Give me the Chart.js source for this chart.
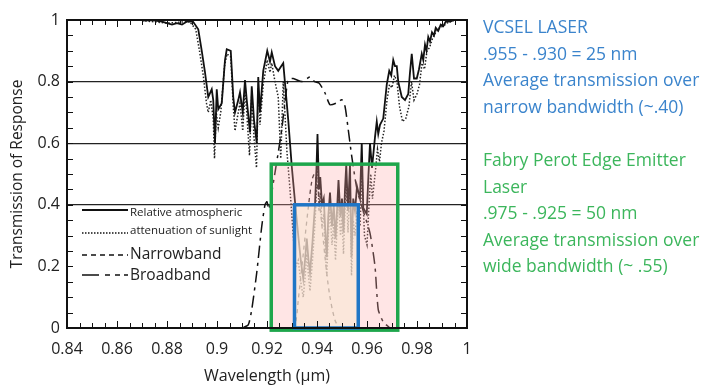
<!DOCTYPE html>
<html lang="en">
<head>
<meta charset="UTF-8">
<title>Transmission of Response</title>
<script src="https://cdn.jsdelivr.net/npm/chart.js"></script>
<style>
    body {
        margin: 0;
        background: #ffffff;
        font-family: "Open Sans", sans-serif;
    }

    .wrap {
        position: relative;
        width: 703px;
        height: 386px;
    }

    .note {
        position: absolute;
        left: 483px;
        font-size: 17.5px;
        line-height: 26.6px;
        white-space: nowrap;
    }

    .blue { top: 13px; color: #3b84cc; }
    .green { top: 146px; color: #3cb65c; }
</style>
</head>
<body>
<div class="wrap">
    <canvas id="chart" width="703" height="386"></canvas>
    <div class="note blue">VCSEL LASER<br>.955 - .930 = 25 nm<br>Average transmission over<br>narrow bandwidth (~.40)</div>
    <div class="note green">Fabry Perot Edge Emitter<br>Laser<br>.975 - .925 = 50 nm<br>Average transmission over<br>wide bandwidth (~ .55)</div>
</div>

<script>
    // relative atmospheric transmission (solid)
    const atmWl = [0.870, 0.874, 0.878, 0.880, 0.882, 0.884, 0.886, 0.888, 0.8904, 0.8925, 0.8939, 0.8952, 0.8965, 0.8979, 0.8985, 0.8992, 0.8999, 0.9005, 0.9019, 0.9032, 0.9039, 0.9055, 0.9065, 0.9072, 0.9085, 0.9092, 0.9103, 0.9112, 0.9119, 0.9132, 0.9139, 0.9148, 0.9159, 0.9165, 0.9172, 0.9185, 0.9201, 0.9212, 0.9219, 0.9232, 0.9245, 0.9265, 0.9285, 0.9299, 0.9312, 0.9325, 0.9335, 0.9345, 0.9352, 0.9359, 0.9366, 0.9372, 0.9382, 0.9392, 0.9398, 0.9402, 0.9408, 0.9413, 0.9420, 0.9427, 0.9434, 0.9439, 0.9445, 0.9452, 0.9460, 0.9467, 0.9474, 0.9480, 0.9486, 0.9494, 0.9500, 0.9506, 0.9512, 0.9517, 0.9524, 0.9532, 0.9538, 0.9545, 0.9552, 0.9560, 0.9572, 0.9579, 0.9585, 0.9599, 0.9606, 0.9612, 0.9620, 0.9632, 0.9639, 0.9645, 0.9652, 0.9665, 0.9679, 0.9689, 0.9697, 0.9705, 0.9712, 0.9719, 0.9725, 0.9739, 0.9752, 0.9765, 0.9772, 0.9779, 0.9788, 0.9799, 0.9808, 0.9819, 0.9825, 0.9832, 0.9838, 0.9845, 0.9852, 0.9860, 0.9868, 0.9875, 0.9885, 0.9895, 0.9905, 0.9915, 0.9932, 0.995, 1.0];
    const atmT = [0.998, 1.0, 0.995, 0.99, 0.985, 0.99, 0.985, 0.995, 0.995, 0.97, 0.90, 0.83, 0.75, 0.775, 0.74, 0.60, 0.775, 0.71, 0.73, 0.87, 0.905, 0.90, 0.75, 0.70, 0.74, 0.765, 0.70, 0.805, 0.74, 0.635, 0.785, 0.675, 0.60, 0.815, 0.70, 0.835, 0.90, 0.865, 0.895, 0.85, 0.835, 0.86, 0.675, 0.525, 0.41, 0.30, 0.22, 0.16, 0.22, 0.29, 0.22, 0.18, 0.28, 0.40, 0.52, 0.63, 0.45, 0.49, 0.40, 0.42, 0.30, 0.23, 0.36, 0.44, 0.33, 0.40, 0.29, 0.38, 0.48, 0.36, 0.42, 0.31, 0.45, 0.53, 0.38, 0.53, 0.23, 0.42, 0.38, 0.46, 0.42, 0.60, 0.39, 0.37, 0.50, 0.60, 0.52, 0.62, 0.67, 0.63, 0.66, 0.68, 0.79, 0.835, 0.82, 0.87, 0.85, 0.85, 0.80, 0.75, 0.74, 0.76, 0.83, 0.89, 0.81, 0.81, 0.84, 0.89, 0.87, 0.92, 0.90, 0.945, 0.93, 0.96, 0.95, 0.975, 0.965, 0.985, 0.98, 0.995, 0.995, 1.0, 1.0];

    // attenuation of sunlight (dotted)
    const sunWl = [0.870, 0.880, 0.889, 0.8915, 0.8930, 0.8945, 0.8958, 0.8965, 0.8975, 0.8985, 0.8990, 0.8997, 0.9005, 0.9015, 0.9030, 0.9040, 0.9055, 0.9065, 0.9072, 0.9085, 0.9092, 0.9103, 0.9112, 0.9119, 0.9130, 0.9139, 0.9148, 0.9158, 0.9165, 0.9172, 0.9185, 0.9201, 0.9212, 0.9219, 0.9232, 0.9245, 0.9255, 0.9265, 0.9280, 0.9292, 0.9305, 0.9315, 0.9325, 0.9335, 0.9345, 0.9352, 0.9359, 0.9366, 0.9372, 0.9382, 0.9392, 0.9398, 0.9402, 0.9408, 0.9413, 0.9420, 0.9427, 0.9434, 0.9439, 0.9445, 0.9452, 0.9460, 0.9467, 0.9474, 0.9480, 0.9486, 0.9494, 0.9500, 0.9506, 0.9512, 0.9517, 0.9524, 0.9532, 0.9538, 0.9545, 0.9552, 0.9560, 0.9572, 0.9580, 0.9590, 0.9600, 0.9608, 0.9615, 0.9622, 0.9635, 0.9642, 0.9650, 0.9658, 0.9668, 0.9680, 0.9690, 0.9700, 0.9710, 0.9720, 0.9730, 0.9742, 0.9755, 0.9768, 0.9778, 0.9788, 0.9800, 0.9810, 0.9820, 0.9830, 0.9840, 0.9850, 0.9862, 0.9875, 0.9890, 0.9905, 0.992, 0.995, 1.0];
    const sunT = [0.998, 0.99, 0.995, 0.97, 0.90, 0.82, 0.73, 0.70, 0.74, 0.68, 0.55, 0.70, 0.65, 0.70, 0.85, 0.89, 0.88, 0.72, 0.64, 0.70, 0.73, 0.64, 0.77, 0.70, 0.56, 0.76, 0.62, 0.52, 0.78, 0.66, 0.79, 0.87, 0.83, 0.86, 0.80, 0.75, 0.55, 0.80, 0.57, 0.45, 0.30, 0.20, 0.22, 0.15, 0.10, 0.16, 0.24, 0.17, 0.12, 0.22, 0.34, 0.45, 0.55, 0.38, 0.44, 0.33, 0.37, 0.24, 0.17, 0.30, 0.39, 0.27, 0.34, 0.22, 0.32, 0.42, 0.30, 0.36, 0.24, 0.39, 0.47, 0.31, 0.47, 0.17, 0.35, 0.30, 0.38, 0.33, 0.50, 0.30, 0.27, 0.40, 0.50, 0.42, 0.52, 0.58, 0.54, 0.60, 0.64, 0.74, 0.79, 0.78, 0.82, 0.80, 0.72, 0.67, 0.68, 0.72, 0.80, 0.74, 0.76, 0.79, 0.86, 0.84, 0.90, 0.91, 0.94, 0.96, 0.975, 0.98, 0.99, 1.0, 1.0];

    // narrowband filter (dashed)
    const narrowWl = [0.9300, 0.9315, 0.9325, 0.9345, 0.9365, 0.9380, 0.9390, 0.9400, 0.9415, 0.9432, 0.9450, 0.9472, 0.9490];
    const narrowT = [0.0, 0.02, 0.09, 0.24, 0.39, 0.48, 0.50, 0.47, 0.37, 0.23, 0.11, 0.025, 0.0];

    // broadband filter (dash-dot)
    const broadWl = [0.9100, 0.9125, 0.9139, 0.9159, 0.9179, 0.9192, 0.9200, 0.9208, 0.9225, 0.9245, 0.9259, 0.9270, 0.9285, 0.9305, 0.9339, 0.9360, 0.9372, 0.9390, 0.9409, 0.9432, 0.9452, 0.9479, 0.9499, 0.9512, 0.9525, 0.9539, 0.9560, 0.9585, 0.9612, 0.9632, 0.9645, 0.9665, 0.9692];
    const broadT = [0.0, 0.01, 0.06, 0.18, 0.33, 0.40, 0.41, 0.385, 0.47, 0.57, 0.645, 0.72, 0.807, 0.81, 0.80, 0.81, 0.815, 0.80, 0.795, 0.763, 0.725, 0.731, 0.741, 0.72, 0.644, 0.557, 0.45, 0.38, 0.308, 0.20, 0.06, 0.02, 0.0];

    // laser bands: [from, to] wavelength and average transmission
    const vcselBand = [0.931, 0.9565];
    const vcselLevel = 0.40;
    const fabryBand = [0.9217, 0.9723];
    const fabryLevel = 0.532;

    const xTicks = [0.84, 0.86, 0.88, 0.9, 0.92, 0.94, 0.96, 0.98, 1];
    const yTicks = [0, 0.2, 0.4, 0.6, 0.8, 1];
    const gridLevels = [0.4, 0.6, 0.8];

    const toPoints = (xs, ys) => xs.map((x, i) => ({ x: x, y: ys[i] }));
    const fmt = v => String(Number(v.toFixed(2)));

    // frame with inward ticks on all four sides
    const framePlugin = {
        id: 'frame',
        afterDatasetsDraw(chart) {
            const { ctx, chartArea: a, scales: { x, y } } = chart;
            ctx.save();
            ctx.strokeStyle = '#111';
            ctx.lineWidth = 1;
            for (let k = 0; k <= 32; k++) {
                const v = 0.84 + k * 0.005;
                const px = Math.round(x.getPixelForValue(v)) + 0.5;
                const len = k % 4 === 0 ? 7 : 5;
                ctx.beginPath();
                ctx.moveTo(px, a.top); ctx.lineTo(px, a.top + len);
                ctx.moveTo(px, a.bottom); ctx.lineTo(px, a.bottom - len);
                ctx.stroke();
            }
            for (let k = 0; k <= 20; k++) {
                const py = Math.round(y.getPixelForValue(k * 0.05)) + 0.5;
                ctx.beginPath();
                ctx.moveTo(a.left, py); ctx.lineTo(a.left + 6, py);
                ctx.moveTo(a.right, py); ctx.lineTo(a.right - 6, py);
                ctx.stroke();
            }
            ctx.lineWidth = 2;
            ctx.strokeRect(a.left, a.top, a.right - a.left, a.bottom - a.top);
            ctx.restore();
        }
    };

    // shaded laser bands drawn over the curves
    const bandPlugin = {
        id: 'bands',
        afterDatasetsDraw(chart) {
            const { ctx, scales: { x, y } } = chart;
            const box = (band, top, bottom, fill, stroke) => {
                const x0 = x.getPixelForValue(band[0]);
                const x1 = x.getPixelForValue(band[1]);
                const y0 = y.getPixelForValue(top);
                const y1 = y.getPixelForValue(bottom);
                ctx.fillStyle = fill;
                ctx.fillRect(x0, y0, x1 - x0, y1 - y0);
                ctx.strokeStyle = stroke;
                ctx.lineWidth = 3.5;
                ctx.strokeRect(x0, y0, x1 - x0, y1 - y0);
            };
            ctx.save();
            box(fabryBand, fabryLevel, -0.007, 'rgba(255, 170, 170, 0.3)', '#1ea64c');
            box(vcselBand, vcselLevel, 0, 'rgba(249, 234, 215, 0.65)', '#1f76c6');
            ctx.restore();
        }
    };

    // hand-drawn style legend inside the plot
    const legendPlugin = {
        id: 'keyBox',
        afterDraw(chart) {
            const { ctx } = chart;
            const sample = (yy, dash, width) => {
                ctx.beginPath();
                ctx.setLineDash(dash);
                ctx.lineWidth = width;
                ctx.moveTo(82, yy); ctx.lineTo(128, yy);
                ctx.stroke();
            };
            ctx.save();
            ctx.strokeStyle = '#111';
            ctx.fillStyle = '#222';
            ctx.textBaseline = 'middle';
            sample(210, [], 1.8);
            sample(233, [1.5, 1.5], 1.5);
            sample(255, [5, 4], 1.3);
            sample(275, [17, 6, 5, 5, 5, 4], 1.5);
            ctx.setLineDash([]);
            ctx.font = '11.5px "Open Sans", sans-serif';
            ctx.fillText('Relative atmospheric', 130, 213);
            ctx.fillText('attenuation of sunlight', 130, 231);
            ctx.font = '15.5px "Open Sans", sans-serif';
            ctx.fillText('Narrowband', 130, 255);
            ctx.fillText('Broadband', 130, 276);
            ctx.restore();
        }
    };

    new Chart(document.getElementById('chart'), {
        type: 'line',
        data: {
            datasets: [
                {
                    label: 'Relative atmospheric',
                    data: toPoints(atmWl, atmT),
                    borderColor: '#111',
                    borderWidth: 1.8,
                    pointRadius: 0,
                    tension: 0,
                    clip: 4
                },
                {
                    label: 'attenuation of sunlight',
                    data: toPoints(sunWl, sunT),
                    borderColor: '#222',
                    borderWidth: 1.5,
                    borderDash: [1.5, 1.8],
                    pointRadius: 0,
                    tension: 0,
                    clip: 4
                },
                {
                    label: 'Narrowband',
                    data: toPoints(narrowWl, narrowT),
                    borderColor: '#222',
                    borderWidth: 1.3,
                    borderDash: [4, 4],
                    pointRadius: 0,
                    tension: 0.3
                },
                {
                    label: 'Broadband',
                    data: toPoints(broadWl, broadT),
                    borderColor: '#111',
                    borderWidth: 1.5,
                    borderDash: [12, 5, 3, 5],
                    pointRadius: 0,
                    tension: 0.2
                }
            ]
        },
        options: {
            responsive: false,
            animation: false,
            layout: { padding: { top: 20, right: 236 } },
            plugins: {
                legend: { display: false },
                tooltip: { enabled: false }
            },
            scales: {
                x: {
                    type: 'linear',
                    min: 0.84,
                    max: 1.0,
                    afterFit: s => { s.height = 58; },
                    afterBuildTicks: s => { s.ticks = xTicks.map(v => ({ value: v })); },
                    grid: { display: false, drawTicks: false },
                    border: { display: false },
                    ticks: {
                        padding: 12,
                        color: '#222',
                        font: { family: '"Open Sans", sans-serif', size: 16 },
                        callback: v => fmt(v)
                    },
                    title: {
                        display: true,
                        text: 'Wavelength (μm)',
                        color: '#222',
                        padding: { top: 0, bottom: 0 },
                        font: { family: '"Open Sans", sans-serif', size: 16 }
                    }
                },
                y: {
                    min: 0,
                    max: 1,
                    afterFit: s => { s.width = 67; },
                    afterBuildTicks: s => { s.ticks = yTicks.map(v => ({ value: v })); },
                    grid: {
                        drawTicks: false,
                        lineWidth: 1.3,
                        color: c => gridLevels.some(g => Math.abs(g - c.tick.value) < 1e-6) ? '#222' : 'rgba(0,0,0,0)'
                    },
                    border: { display: false },
                    ticks: {
                        padding: 7,
                        color: '#222',
                        font: { family: '"Open Sans", sans-serif', size: 16 },
                        callback: v => fmt(v)
                    },
                    title: {
                        display: true,
                        text: 'Transmission of Response',
                        color: '#222',
                        padding: { top: 8, bottom: 0 },
                        font: { family: '"Open Sans", sans-serif', size: 15.5 }
                    }
                }
            }
        },
        plugins: [bandPlugin, framePlugin, legendPlugin]
    });
</script>
</body>
</html>
